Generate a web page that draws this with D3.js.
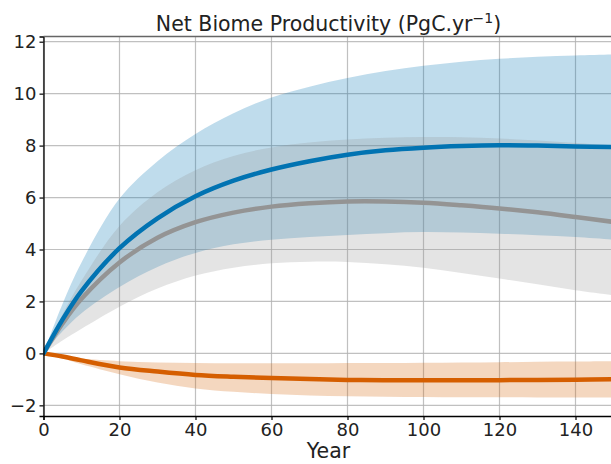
<!DOCTYPE html>
<html>
<head>
<meta charset="utf-8">
<script src="https://cdn.jsdelivr.net/npm/d3@7"></script>
<style>
  body { margin: 0; background: white; }
  text { font-family: "DejaVu Sans", sans-serif; fill: #222; }
</style>
</head>
<body>
<div id="chartdiv"></div>
<script>
// years and series
const years      = [0, 5, 10, 20, 30, 40, 50, 60, 70, 80, 90, 100, 110, 120, 130, 140, 150];
const blueMean   = [0, 1.3, 2.4, 4.05, 5.2, 6.05, 6.65, 7.08, 7.4, 7.65, 7.82, 7.92, 7.98, 8.01, 8.0, 7.97, 7.94];
const blueUpper  = [0, 1.9, 3.5, 5.96, 7.4, 8.45, 9.25, 9.85, 10.27, 10.6, 10.87, 11.07, 11.23, 11.34, 11.42, 11.47, 11.51];
const blueLower  = [0, 0.85, 1.55, 2.56, 3.33, 3.87, 4.2, 4.38, 4.48, 4.56, 4.63, 4.67, 4.65, 4.61, 4.55, 4.48, 4.38];
const grayMean   = [0, 1.15, 2.1, 3.5, 4.45, 5.05, 5.42, 5.65, 5.78, 5.85, 5.85, 5.8, 5.7, 5.58, 5.43, 5.25, 5.06];
const grayUpper  = [0, 1.5, 2.8, 4.9, 6.2, 7.05, 7.6, 7.93, 8.12, 8.23, 8.3, 8.33, 8.32, 8.27, 8.2, 8.1, 8.01];
const grayLower  = [0, 0.5, 0.95, 1.8, 2.5, 3.0, 3.3, 3.47, 3.53, 3.52, 3.43, 3.3, 3.1, 2.88, 2.66, 2.43, 2.24];
const orangeMean = [0, -0.12, -0.27, -0.54, -0.7, -0.83, -0.9, -0.95, -0.99, -1.02, -1.03, -1.03, -1.03, -1.03, -1.02, -1.01, -0.99];
const orangeUpper= [0, -0.1, -0.2, -0.3, -0.35, -0.37, -0.38, -0.38, -0.38, -0.37, -0.37, -0.36, -0.35, -0.34, -0.32, -0.31, -0.3];
const orangeLower= [0, -0.2, -0.42, -0.8, -1.12, -1.35, -1.48, -1.56, -1.62, -1.65, -1.67, -1.68, -1.69, -1.69, -1.7, -1.7, -1.7];

const xTicks = [0, 20, 40, 60, 80, 100, 120, 140];
const yTicks = [-2, 0, 2, 4, 6, 8, 10, 12];

const series = [
  {mean: orangeMean, upper: orangeUpper, lower: orangeLower, color: "#d55e00"},
  {mean: grayMean,   upper: grayUpper,   lower: grayLower,   color: "#949494"},
  {mean: blueMean,   upper: blueUpper,   lower: blueLower,   color: "#0173b2"}
];

let W = 611, H = 464;
let margin = {top: 36.5, bottom: 48, left: 43.5, right: -2.5};
let width = W - margin.left - margin.right;
let height = H - margin.top - margin.bottom;

let svg = d3.select("#chartdiv").append("svg")
            .attr("width", W)
            .attr("height", H);

let g = svg.append("g")
           .attr("transform", `translate(${margin.left}, ${margin.top})`);

let x = d3.scaleLinear().domain([0, 150]).range([0, width]);
let y = d3.scaleLinear().domain([-2.41, 12.2]).range([height, 0]);

svg.append("clipPath").attr("id", "plotclip")
   .append("rect").attr("width", width).attr("height", height);

// grid
g.append("g")
  .selectAll("line.vgrid")
  .data(xTicks)
  .enter()
  .append("line")
  .attr("x1", d => x(d)).attr("x2", d => x(d))
  .attr("y1", 0).attr("y2", height)
  .attr("stroke", "#b0b0b0").attr("stroke-opacity", 0.8).attr("stroke-width", 1.2);

g.append("g")
  .selectAll("line.hgrid")
  .data(yTicks)
  .enter()
  .append("line")
  .attr("x1", 0).attr("x2", width)
  .attr("y1", d => y(d)).attr("y2", d => y(d))
  .attr("stroke", "#b0b0b0").attr("stroke-opacity", 0.8).attr("stroke-width", 1.2);

let plot = g.append("g").attr("clip-path", "url(#plotclip)");

let area = d3.area()
  .x(d => x(d.x))
  .y0(d => y(d.lo))
  .y1(d => y(d.hi))
  .curve(d3.curveCatmullRom.alpha(0.5));

let line = d3.line()
  .x(d => x(d.x))
  .y(d => y(d.v))
  .curve(d3.curveCatmullRom.alpha(0.5));

// bands: blue first, then gray and orange over it
[series[2], series[1], series[0]].forEach(s => {
  plot.append("path")
    .datum(years.map((yr, i) => ({x: yr, lo: s.lower[i], hi: s.upper[i]})))
    .attr("d", area)
    .attr("fill", s.color)
    .attr("fill-opacity", 0.25);
});

series.forEach(s => {
  plot.append("path")
    .datum(years.map((yr, i) => ({x: yr, v: s.mean[i]})))
    .attr("d", line)
    .attr("fill", "none")
    .attr("stroke", s.color)
    .attr("stroke-width", 4.5)
    .attr("stroke-linecap", "round");
});

// axes
let xAxis = g.append("g")
  .attr("transform", `translate(0, ${height})`)
  .call(d3.axisBottom(x).tickValues(xTicks).tickSizeOuter(0).tickSize(4).tickPadding(3));

let yAxis = g.append("g")
  .call(d3.axisLeft(y).tickValues(yTicks).tickSizeOuter(0).tickSize(4).tickPadding(3)
          .tickFormat(d => d < 0 ? "\u2212" + Math.abs(d) : d));

[xAxis, yAxis].forEach(a => {
  a.select(".domain").attr("stroke", "#000").attr("stroke-width", 1.3);
  a.selectAll(".tick line").attr("stroke", "#000").attr("stroke-width", 1.2);
  a.selectAll("text")
    .style("font-family", "'DejaVu Sans', sans-serif")
    .style("font-size", "18px")
    .attr("fill", "#222");
});

// top spine
g.append("line")
  .attr("x1", 0).attr("x2", width)
  .attr("y1", 0).attr("y2", 0)
  .attr("stroke", "#666").attr("stroke-width", 1.6);

// x label
g.append("text")
  .attr("x", width / 2)
  .attr("y", height + 42)
  .style("text-anchor", "middle")
  .style("font-size", "20.5px")
  .text("Year");

// title
let title = g.append("text")
  .attr("x", width / 2)
  .attr("y", -6)
  .style("text-anchor", "middle")
  .style("font-size", "20.5px");
title.append("tspan").text("Net Biome Productivity (PgC.yr");
title.append("tspan").attr("baseline-shift", "super").style("font-size", "14px").text("\u22121");
title.append("tspan").text(")");
</script>
</body>
</html>
